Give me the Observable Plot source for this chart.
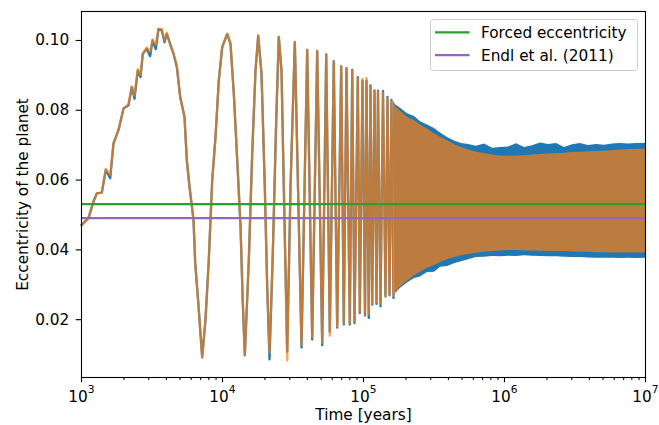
<!DOCTYPE html>
<html><head><meta charset="utf-8">
<script src="https://cdn.jsdelivr.net/npm/d3@7"></script>
<script src="https://cdn.jsdelivr.net/npm/@observablehq/plot@0.6"></script>
<style>
html,body{margin:0;padding:0;background:#fff;}
#chart{position:relative;width:659px;height:425px;}
</style></head><body><div id="chart"></div>
<script>
// ---- resolved oscillations (time in years, eccentricity) ----
const timeYears = [1000,1121,1216,1284,1393,1487,1598,1686,1830,1986,2154,2274,2376,2507,2621,2721,2905,3070,3188,3365,3517,3711,3879,4027,4257,4493,4742,5012,5377,5583,5834,6228,6404,6757,7178,7574,7993,8453,8920,9415,9952,10798,11396,12028,12718,13423,13931,14395,15370,16241,17140,17916,18910,19953,20749,21544,22738,24040,25080,26210,27216,28770,30366,32578,36343,39870,43270,46950,50950,54380,57680,61550,65080,69480,72500,75760,79960,83180,86360,91140,94150,98380,102500,105000,109000,112100,115300,119700,123700,126700,132000,137500,143200,148000,152900,157900,163200];
const eccBlue = [0.0471,0.0491,0.0538,0.0562,0.0564,0.0629,0.0605,0.0705,0.0743,0.0805,0.0814,0.0867,0.0833,0.0914,0.0895,0.0962,0.0976,0.0955,0.1000,0.0975,0.1033,0.1029,0.0995,0.1019,0.0990,0.0962,0.0924,0.0838,0.0781,0.0657,0.0581,0.0486,0.0362,0.0240,0.0092,0.0200,0.0371,0.0600,0.0724,0.0886,0.0981,0.1019,0.0990,0.0848,0.0657,0.0467,0.0248,0.0098,0.0371,0.0676,0.0914,0.1014,0.0905,0.0581,0.0295,0.0086,0.0390,0.0771,0.1010,0.0914,0.0580,0.0108,0.0580,0.0995,0.0120,0.0973,0.0143,0.0970,0.0127,0.0960,0.0165,0.0941,0.0177,0.0926,0.0186,0.0921,0.0186,0.0916,0.0190,0.0895,0.0219,0.0885,0.0212,0.0885,0.0205,0.0871,0.0243,0.0857,0.0245,0.0856,0.0238,0.0855,0.0267,0.0838,0.0270,0.0830,0.0262];
const eccOrange = [0.0471,0.0491,0.0540,0.0562,0.0564,0.0632,0.0615,0.0705,0.0745,0.0805,0.0818,0.0867,0.0842,0.0918,0.0900,0.0962,0.0980,0.0968,0.1003,0.0988,0.1033,0.1033,0.1000,0.1022,0.0985,0.0962,0.0930,0.0838,0.0781,0.0657,0.0581,0.0486,0.0362,0.0240,0.0092,0.0200,0.0371,0.0600,0.0724,0.0886,0.0981,0.1019,0.0990,0.0848,0.0657,0.0467,0.0248,0.0098,0.0371,0.0676,0.0914,0.1014,0.0905,0.0581,0.0295,0.0105,0.0390,0.0771,0.1010,0.0914,0.0580,0.0083,0.0580,0.0995,0.0128,0.0973,0.0150,0.0970,0.0134,0.0960,0.0154,0.0941,0.0180,0.0926,0.0189,0.0921,0.0190,0.0913,0.0195,0.0893,0.0222,0.0890,0.0215,0.0893,0.0215,0.0868,0.0245,0.0855,0.0250,0.0853,0.0245,0.0850,0.0265,0.0835,0.0272,0.0826,0.0268];

// ---- unresolved fast oscillations: envelopes ----
const bandTimeYears = [163200,168700,183000,205200,230000,253700,284400,318800,351700,394200,442000,495500,555600,632900,721500,822000,936800,1067600,1216500,1386500,1579800,1800000,2051600,2338000,2664000,3036000,3459000,3942000,4493000,5119000,5834000,6648000,7576000,8636000,10000000];
const bandBlueHigh = [0.0826,0.0816,0.0806,0.0790,0.0782,0.0767,0.0758,0.0748,0.0735,0.0722,0.0712,0.0705,0.0702,0.0697,0.0703,0.0691,0.0693,0.0695,0.0704,0.0693,0.0698,0.0706,0.0702,0.0705,0.0693,0.0701,0.0705,0.0699,0.0702,0.0700,0.0703,0.0705,0.0703,0.0705,0.0705];
const bandBlueLow = [0.0262,0.0275,0.0290,0.0305,0.0318,0.0322,0.0335,0.0336,0.0350,0.0352,0.0360,0.0366,0.0372,0.0378,0.0379,0.0381,0.0380,0.0382,0.0381,0.0383,0.0382,0.0381,0.0380,0.0380,0.0379,0.0378,0.0378,0.0377,0.0376,0.0376,0.0376,0.0375,0.0376,0.0375,0.0376];
const bandOrangeHigh = [0.0824,0.0810,0.0797,0.0780,0.0770,0.0758,0.0746,0.0732,0.0723,0.0713,0.0701,0.0693,0.0686,0.0680,0.0676,0.0672,0.0669,0.0668,0.0669,0.0670,0.0672,0.0673,0.0675,0.0676,0.0677,0.0679,0.0680,0.0681,0.0682,0.0683,0.0684,0.0686,0.0687,0.0688,0.0688];
const bandOrangeLow = [0.0266,0.0278,0.0294,0.0310,0.0326,0.0336,0.0347,0.0355,0.0364,0.0372,0.0378,0.0383,0.0387,0.0390,0.0393,0.0395,0.0397,0.0398,0.0398,0.0397,0.0397,0.0396,0.0396,0.0395,0.0395,0.0394,0.0393,0.0393,0.0392,0.0392,0.0391,0.0391,0.0391,0.0391,0.0391];

const forcedEccentricity = 0.0531;
const endlEccentricity = 0.0491;
const legendLabels = ["Forced eccentricity", "Endl et al. (2011)"];

const yTickValues = [0.02, 0.04, 0.06, 0.08, 0.10];
const yTickLabels = ["0.02", "0.04", "0.06", "0.08", "0.10"];
const xTickValues = [1e3, 1e4, 1e5, 1e6, 1e7];
const xTickBase = "10";
const xTickExponents = ["3", "4", "5", "6", "7"];
const xLabel = "Time [years]";
const yLabel = "Eccentricity of the planet";

// ---- build tables ----
const series = timeYears.map((t, i) => ({t, b: eccBlue[i], o: eccOrange[i]}));
const band = bandTimeYears.map((t, i) => ({t, bh: bandBlueHigh[i], bl: bandBlueLow[i], oh: bandOrangeHigh[i], ol: bandOrangeLow[i]}));
const minorTicks = [];
for (let k = 3; k < 7; k++) for (let m = 2; m < 10; m++) minorTicks.push(m * Math.pow(10, k));

const BLUE = "#1f77b4", ORANGE = "#ff7f0e", GREEN = "#2ca02c", PURPLE = "#9467bd";
const FONT = "'DejaVu Sans', sans-serif";
const FS = 15.3;
const LW = 2.3;

const chart = Plot.plot({
  width: 659, height: 425,
  marginLeft: 81, marginRight: 14, marginTop: 11, marginBottom: 48,
  style: {fontFamily: FONT, fontSize: FS + "px", color: "#000", background: "#fff", overflow: "visible"},
  x: {type: "log", domain: [1e3, 1e7]},
  y: {domain: [0.00343, 0.1083]},
  marks: [
    Plot.areaY(band, {x: "t", y1: "bl", y2: "bh", fill: BLUE, curve: "linear"}),
    Plot.line(series, {x: "t", y: "b", stroke: BLUE, strokeWidth: LW, strokeLinejoin: "round"}),
    Plot.areaY(band, {x: "t", y1: "ol", y2: "oh", fill: ORANGE, fillOpacity: 0.7, curve: "linear"}),
    Plot.line(series, {x: "t", y: "o", stroke: ORANGE, strokeOpacity: 0.7, strokeWidth: LW, strokeLinejoin: "round"}),
    Plot.ruleY([forcedEccentricity], {stroke: GREEN, strokeWidth: LW}),
    Plot.ruleY([endlEccentricity], {stroke: PURPLE, strokeWidth: LW}),
    Plot.frame({stroke: "#000", strokeWidth: 1.1}),
    Plot.axisY({ticks: yTickValues, tickFormat: d => yTickLabels[yTickValues.indexOf(d)], tickSize: 5.3, tickPadding: 7, label: null, fontSize: FS, strokeWidth: 1.1}),
    Plot.axisX({ticks: minorTicks, tickSize: 3.1, tickFormat: () => "", label: null, strokeWidth: 1.0}),
    Plot.axisX({ticks: xTickValues, tickSize: 5.3, tickFormat: () => "", label: null, strokeWidth: 1.1}),
    Plot.text(xTickValues, {x: d => d, frameAnchor: "bottom", lineAnchor: "middle", text: () => xTickBase, dx: -3.4, dy: 19.5, fontSize: FS, fill: "#000"}),
    Plot.text(xTickValues, {x: d => d, frameAnchor: "bottom", lineAnchor: "middle", text: (d, i) => xTickExponents[i], dx: 9.7, dy: 12, fontSize: 10.7, fill: "#000"}),
    Plot.text([xLabel], {frameAnchor: "bottom", lineAnchor: "middle", text: d => d, dy: 38, fontSize: FS, fill: "#000"}),
    Plot.text([yLabel], {frameAnchor: "left", textAnchor: "middle", lineAnchor: "middle", text: d => d, rotate: -90, dx: -58.5, fontSize: FS, fill: "#000"})
  ]
});

// ---- legend (upper right, inside axes) ----
const svg = d3.select(chart);
const lg = svg.append("g").attr("font-family", FONT).attr("font-size", FS).attr("text-anchor", "start");
lg.append("rect").attr("x", 430.5).attr("y", 19.5).attr("width", 207).attr("height", 51).attr("rx", 3)
  .attr("fill", "#fff").attr("fill-opacity", 0.8).attr("stroke", "#cccccc").attr("stroke-width", 1);
[GREEN, PURPLE].forEach((c, i) => {
  const y = 32.3 + i * 22.8;
  lg.append("line").attr("x1", 435).attr("x2", 469.5).attr("y1", y).attr("y2", y).attr("stroke", c).attr("stroke-width", LW);
  lg.append("text").attr("x", 481).attr("y", y).attr("dy", "0.36em").attr("text-anchor", "start").attr("fill", "#000").text(legendLabels[i]);
});

document.getElementById("chart").appendChild(chart);
</script>
</body></html>
